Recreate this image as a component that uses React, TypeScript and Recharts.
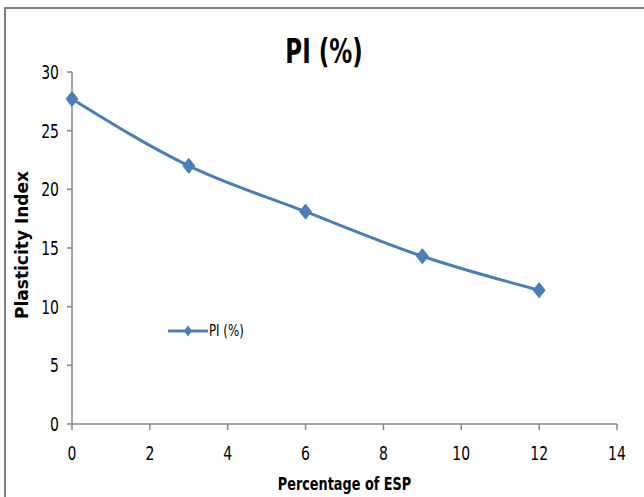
import React from "react";
import { LineChart, Line, XAxis, YAxis, Legend, Customized } from "recharts";

const espPercent = [0, 3, 6, 9, 12];
const piValues = [27.7, 22.0, 18.1, 14.3, 11.4];
const xTicks = [0, 2, 4, 6, 8, 10, 12, 14];
const yTicks = [0, 5, 10, 15, 20, 25, 30];
const seriesName = "PI (%)";
const chartTitle = "PI (%)";
const xTitle = "Percentage of ESP";
const yTitle = "Plasticity Index";

const data = espPercent.map((x, i) => ({ x, pi: piValues[i] }));

const BLUE = "#4A7EBB";
const AXIS = "#868686";
const FONT = "'DejaVu Sans Condensed', 'Liberation Sans Narrow', sans-serif";
const BOLDFONT = "'DejaVu Sans', Verdana, sans-serif";

const Diamond = (props: any) => {
  const { cx, cy } = props;
  if (cx == null || cy == null) return null;
  const r = 7.5;
  return (
    <polygon
      points={`${cx},${cy - r} ${cx + r * 0.8},${cy} ${cx},${cy + r} ${cx - r * 0.8},${cy}`}
      fill={BLUE}
      stroke={BLUE}
    />
  );
};

const NarrowText = ({ x, y, anchor, size, scale, bold, children, dy }: any) => (
  <g transform={`translate(${x},${y}) scale(${scale},1)`}>
    <text
      x={0}
      y={0}
      dy={dy}
      textAnchor={anchor}
      fontFamily={FONT}
      fontSize={size}
      fontWeight={bold ? "bold" : "normal"}
      fill="#000"
    >
      {children}
    </text>
  </g>
);

const XTick = (props: any) => {
  const { x, y, payload } = props;
  return (
    <NarrowText x={x} y={y} anchor="middle" size={19} scale={0.82} dy="0.71em">
      {payload.value}
    </NarrowText>
  );
};

const YTick = (props: any) => {
  const { x, y, payload } = props;
  return (
    <NarrowText x={x} y={y} anchor="end" size={19} scale={0.82} dy="0.36em">
      {payload.value}
    </NarrowText>
  );
};

const XLabel = (props: any) => {
  const vb = props.viewBox || {};
  return (
    <NarrowText x={vb.x + vb.width / 2} y={vb.y + 66} anchor="middle" size={17} scale={0.84} bold>
      {xTitle}
    </NarrowText>
  );
};

const YLabel = (props: any) => {
  const vb = props.viewBox || {};
  const cx = vb.x + 28;
  const cy = vb.y + vb.height / 2 - 3;
  return (
    <text
      x={cx}
      y={cy}
      transform={`rotate(-90, ${cx}, ${cy})`}
      textAnchor="middle"
      fontFamily={BOLDFONT}
      fontWeight="bold"
      fontSize={17}
      fill="#000"
    >
      {yTitle}
    </text>
  );
};

const LegendContent = () => (
  <div style={{ display: "flex", alignItems: "center", color: "#000" }}>
    <svg width={40} height={14}>
      <line x1={0} y1={7} x2={40} y2={7} stroke={BLUE} strokeWidth={3} />
      <polygon points="20,1.5 24,7 20,12.5 16,7" fill={BLUE} />
    </svg>
    <span
      style={{
        marginLeft: 1,
        fontFamily: FONT,
        fontSize: 16,
        display: "inline-block",
        transform: "scaleX(0.82)",
        transformOrigin: "left center",
        whiteSpace: "nowrap",
      }}
    >
      {seriesName}
    </span>
  </div>
);

const Title = () => (
  <NarrowText x={324} y={63} anchor="middle" size={34} scale={0.75} bold>
    {chartTitle}
  </NarrowText>
);

export default function App() {
  return (
    <div style={{ position: "absolute", left: 0, top: 0, width: 644, height: 497, background: "#fff", overflow: "hidden" }}>
      <div
        style={{
          position: "absolute",
          left: 4,
          top: 7,
          width: 700,
          height: 600,
          borderTop: "2px solid #7f7f7f",
          borderLeft: "2px solid #7f7f7f",
        }}
      />
      <LineChart width={644} height={497} data={data} margin={{ top: 72, right: 27, left: 0, bottom: 0 }}>
        <Customized component={Title} />
        <XAxis
          dataKey="x"
          type="number"
          domain={[0, 14]}
          ticks={xTicks}
          height={73}
          stroke={AXIS}
          strokeWidth={1.5}
          tickSize={6}
          tickMargin={17}
          tick={<XTick />}
          label={<XLabel />}
        />
        <YAxis
          type="number"
          domain={[0, 30]}
          ticks={yTicks}
          width={72}
          stroke={AXIS}
          strokeWidth={1.5}
          tickSize={5}
          tickMargin={8}
          tick={<YTick />}
          label={<YLabel />}
        />
        <Legend
          layout="vertical"
          align="center"
          verticalAlign="middle"
          content={<LegendContent />}
          wrapperStyle={{ position: "absolute", left: 168, top: 321, width: 120 }}
        />
        <Line
          type="monotone"
          dataKey="pi"
          name={seriesName}
          stroke={BLUE}
          strokeWidth={3}
          dot={<Diamond />}
          activeDot={false}
          isAnimationActive={false}
        />
      </LineChart>
    </div>
  );
}
